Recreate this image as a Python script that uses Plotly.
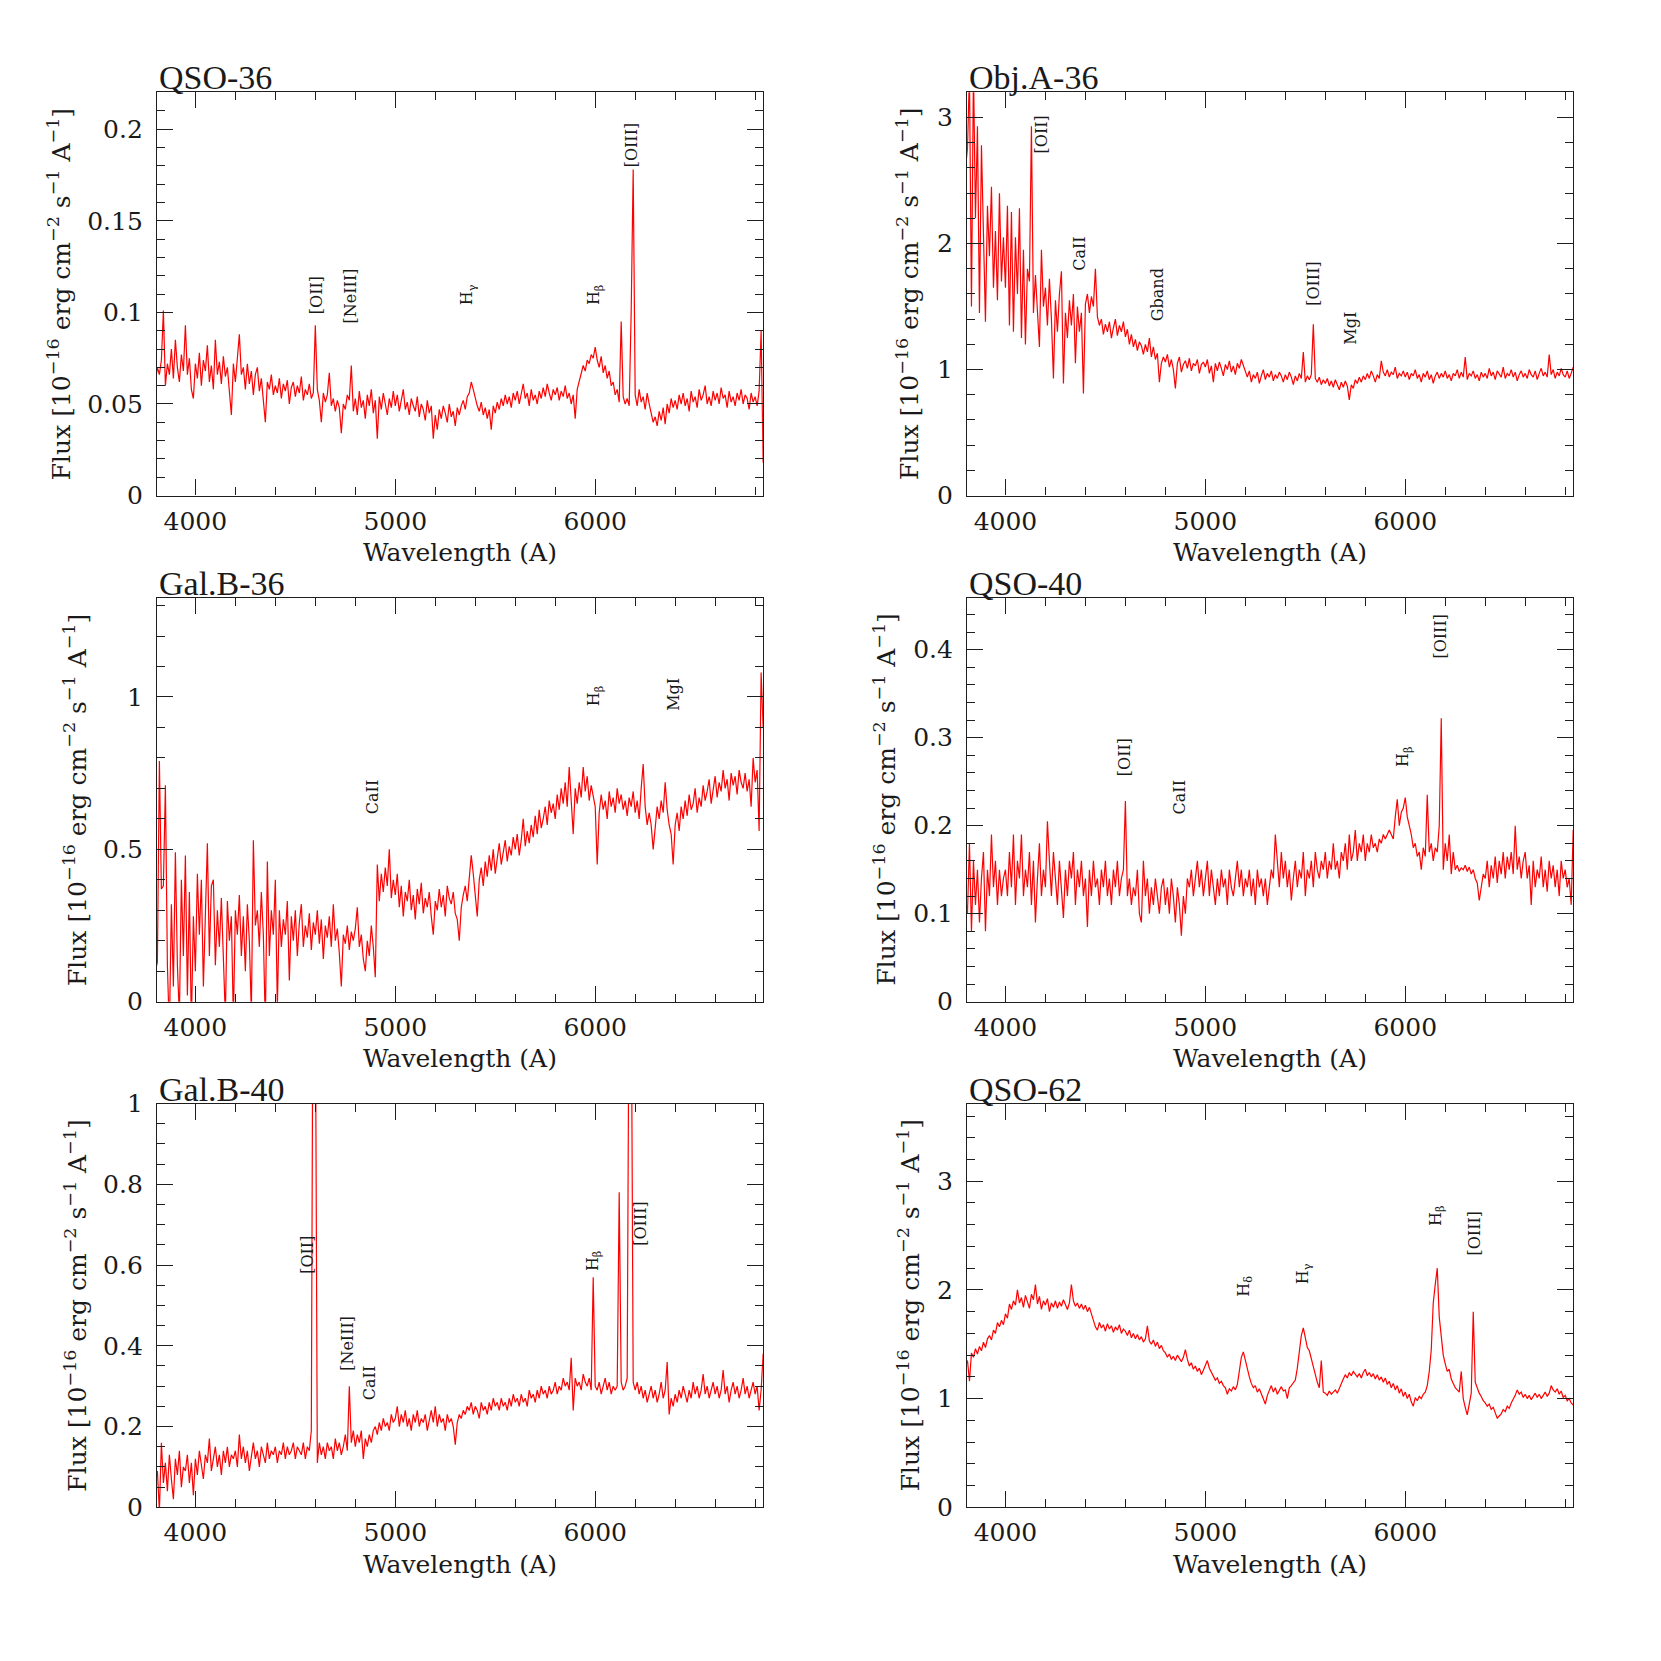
import plotly.graph_objects as go

# wavelength grid (Angstrom), 10 A sampling
WAVE = list(range(3800, 6850, 10))

qso36_flux = (
    [0.062, 0.070, 0.066, 0.074, 0.101, 0.060, 0.072, 0.066, 0.080, 0.064, 0.085, 0.070, 0.062, 0.077, 0.068, 0.093, 0.066, 0.075, 0.058, 0.053]
    + [0.072, 0.064, 0.078, 0.060, 0.074, 0.068, 0.082, 0.062, 0.071, 0.058, 0.085, 0.066, 0.073, 0.061, 0.076, 0.065, 0.070, 0.059, 0.044, 0.072]
    + [0.062, 0.075, 0.088, 0.066, 0.070, 0.058, 0.072, 0.061, 0.068, 0.055, 0.066, 0.070, 0.057, 0.064, 0.052, 0.040, 0.062, 0.058, 0.066, 0.055]
    + [0.060, 0.056, 0.064, 0.053, 0.061, 0.057, 0.063, 0.050, 0.059, 0.062, 0.054, 0.060, 0.056, 0.065, 0.052, 0.058, 0.055, 0.061, 0.053, 0.056]
    + [0.093, 0.058, 0.052, 0.040, 0.056, 0.051, 0.055, 0.067, 0.049, 0.053, 0.046, 0.052, 0.048, 0.034, 0.050, 0.047, 0.055, 0.052, 0.071, 0.046]
    + [0.053, 0.044, 0.057, 0.048, 0.052, 0.042, 0.055, 0.049, 0.058, 0.045, 0.052, 0.031, 0.054, 0.047, 0.056, 0.050, 0.044, 0.053, 0.048, 0.057]
    + [0.049, 0.055, 0.046, 0.052, 0.058, 0.047, 0.051, 0.044, 0.053, 0.049, 0.046, 0.054, 0.043, 0.050, 0.047, 0.041, 0.052, 0.045, 0.049, 0.031]
    + [0.044, 0.036, 0.047, 0.042, 0.049, 0.045, 0.040, 0.050, 0.043, 0.046, 0.038, 0.048, 0.044, 0.049, 0.052, 0.047, 0.054, 0.056, 0.062, 0.058]
    + [0.053, 0.049, 0.046, 0.051, 0.044, 0.048, 0.042, 0.047, 0.036, 0.049, 0.045, 0.051, 0.047, 0.053, 0.049, 0.055, 0.050, 0.054, 0.048, 0.056]
    + [0.052, 0.057, 0.050, 0.055, 0.061, 0.053, 0.056, 0.049, 0.058, 0.052, 0.055, 0.050, 0.057, 0.053, 0.059, 0.054, 0.061, 0.056, 0.052, 0.058]
    + [0.055, 0.059, 0.052, 0.057, 0.054, 0.060, 0.053, 0.056, 0.050, 0.055, 0.042, 0.058, 0.062, 0.067, 0.071, 0.068, 0.074, 0.072, 0.077, 0.075]
    + [0.081, 0.074, 0.070, 0.076, 0.067, 0.071, 0.064, 0.068, 0.060, 0.062, 0.055, 0.058, 0.051, 0.095, 0.054, 0.050, 0.053, 0.049, 0.100, 0.178]
    + [0.055, 0.049, 0.058, 0.051, 0.054, 0.047, 0.056, 0.050, 0.045, 0.040, 0.043, 0.038, 0.046, 0.041, 0.048, 0.039, 0.050, 0.045, 0.053, 0.048]
    + [0.052, 0.047, 0.055, 0.050, 0.056, 0.049, 0.053, 0.046, 0.057, 0.051, 0.054, 0.048, 0.058, 0.052, 0.055, 0.060, 0.050, 0.054, 0.049, 0.057]
    + [0.052, 0.056, 0.050, 0.059, 0.053, 0.055, 0.048, 0.057, 0.051, 0.054, 0.049, 0.056, 0.052, 0.058, 0.050, 0.055, 0.053, 0.047, 0.056, 0.051]
    + [0.054, 0.049, 0.057, 0.090, 0.018]
)

obja36_flux = (
    [2.60, 2.75, 3.35, 1.50, 3.40, 2.20, 2.93, 1.45, 2.78, 2.05, 1.38, 2.30, 1.90, 2.45, 1.65, 2.10, 1.55, 2.40, 1.70, 2.05]
    + [1.65, 2.30, 1.35, 2.25, 1.30, 2.05, 1.60, 2.28, 1.25, 1.95, 1.20, 1.80, 1.70, 2.93, 1.45, 1.75, 1.40, 1.18, 1.95, 1.50]
    + [1.65, 1.35, 1.72, 1.40, 0.93, 1.55, 1.30, 1.60, 1.78, 0.89, 1.45, 1.25, 1.55, 1.35, 1.60, 1.05, 1.50, 1.30, 1.45, 0.81]
    + [1.52, 1.60, 1.45, 1.58, 1.50, 1.80, 1.42, 1.35, 1.40, 1.28, 1.36, 1.30, 1.38, 1.25, 1.33, 1.40, 1.27, 1.35, 1.30, 1.38]
    + [1.26, 1.32, 1.20, 1.28, 1.18, 1.24, 1.15, 1.22, 1.19, 1.12, 1.20, 1.14, 1.25, 1.10, 1.18, 1.08, 1.13, 0.90, 1.05, 1.10]
    + [1.06, 1.12, 1.02, 1.08, 1.00, 0.85, 1.05, 1.10, 0.98, 1.04, 1.07, 1.01, 1.09, 0.99, 1.05, 1.03, 1.08, 0.97, 1.04, 1.06]
    + [1.02, 1.08, 0.97, 1.03, 0.90, 1.05, 0.99, 1.06, 1.01, 0.95, 1.04, 1.00, 1.07, 0.98, 1.03, 0.96, 1.05, 1.01, 1.08, 1.03]
    + [0.98, 0.94, 0.99, 0.90, 0.96, 0.93, 0.98, 0.89, 0.95, 1.00, 0.92, 0.97, 0.94, 0.99, 0.91, 0.96, 0.93, 0.98, 0.95, 0.90]
    + [0.96, 0.92, 0.98, 0.94, 0.88, 0.95, 0.91, 0.97, 0.93, 1.14, 0.90, 0.95, 0.92, 0.96, 1.36, 0.93, 0.90, 0.94, 0.88, 0.92]
    + [0.89, 0.93, 0.87, 0.91, 0.86, 0.92, 0.88, 0.84, 0.90, 0.86, 0.91, 0.87, 0.76, 0.88, 0.85, 0.92, 0.89, 0.94, 0.90, 0.95]
    + [0.92, 0.97, 0.93, 0.99, 0.95, 0.90, 0.96, 0.93, 1.07, 0.98, 0.95, 1.00, 0.94, 0.98, 0.96, 1.02, 0.93, 0.97, 0.95, 0.99]
    + [0.94, 0.98, 0.92, 0.97, 0.95, 1.00, 0.93, 0.96, 0.90, 0.97, 0.94, 0.99, 0.92, 0.96, 0.89, 0.95, 0.98, 0.93, 0.97, 0.94]
    + [0.99, 0.93, 0.96, 0.91, 0.97, 0.95, 1.00, 0.93, 0.98, 0.94, 1.10, 0.92, 0.97, 0.95, 0.99, 0.93, 0.96, 0.91, 0.98, 0.94]
    + [0.97, 0.93, 1.01, 0.95, 0.98, 0.92, 0.99, 0.96, 0.94, 1.02, 0.93, 0.97, 0.95, 1.00, 0.94, 0.98, 0.91, 0.96, 0.99, 0.94]
    + [0.97, 0.93, 1.00, 0.96, 0.94, 0.99, 0.92, 0.97, 1.01, 0.95, 0.98, 0.94, 1.12, 0.96, 1.00, 0.93, 0.98, 0.95, 1.01, 0.96]
    + [0.94, 0.99, 0.93, 0.97, 1.02]
)

galb36_flux = (
    [0.10, 0.13, 0.79, 0.37, 0.38, 0.71, 0.12, -0.10, 0.32, 0.05, 0.49, 0.12, -0.05, 0.40, 0.15, 0.48, 0.02, 0.36, -0.08, 0.28]
    + [0.10, 0.42, 0.22, 0.40, 0.05, 0.32, 0.52, 0.15, 0.38, 0.40, 0.12, 0.30, 0.18, 0.34, 0.08, -0.05, 0.33, 0.20, 0.28, -0.06]
    + [0.30, 0.22, 0.35, 0.15, 0.28, 0.10, 0.32, 0.20, -0.04, 0.53, 0.25, 0.30, 0.18, 0.36, 0.22, -0.08, 0.46, 0.15, 0.30, 0.22]
    + [0.40, -0.02, 0.30, 0.18, 0.27, 0.22, 0.33, 0.07, 0.28, 0.20, 0.30, 0.15, 0.26, 0.32, 0.18, 0.25, 0.21, 0.29, 0.17, 0.26]
    + [0.22, 0.30, 0.19, 0.27, 0.14, 0.25, 0.21, 0.28, 0.18, 0.32, 0.20, 0.24, 0.16, 0.05, 0.22, 0.19, 0.25, 0.17, 0.23, 0.20]
    + [0.24, 0.31, 0.18, 0.22, 0.14, 0.10, 0.20, 0.15, 0.25, 0.18, 0.08, 0.45, 0.33, 0.42, 0.36, 0.44, 0.38, 0.50, 0.34, 0.40]
    + [0.35, 0.42, 0.31, 0.38, 0.28, 0.36, 0.33, 0.40, 0.30, 0.35, 0.27, 0.37, 0.32, 0.39, 0.29, 0.34, 0.31, 0.36, 0.28, 0.22]
    + [0.33, 0.30, 0.37, 0.31, 0.35, 0.28, 0.38, 0.34, 0.32, 0.36, 0.29, 0.27, 0.20, 0.31, 0.35, 0.38, 0.33, 0.40, 0.48, 0.42]
    + [0.36, 0.28, 0.40, 0.44, 0.38, 0.46, 0.41, 0.48, 0.43, 0.50, 0.42, 0.47, 0.52, 0.45, 0.49, 0.53, 0.46, 0.51, 0.48, 0.54]
    + [0.50, 0.55, 0.48, 0.53, 0.60, 0.51, 0.56, 0.52, 0.58, 0.54, 0.61, 0.55, 0.63, 0.57, 0.60, 0.64, 0.58, 0.66, 0.62, 0.65]
    + [0.60, 0.68, 0.63, 0.70, 0.65, 0.72, 0.64, 0.77, 0.66, 0.55, 0.70, 0.65, 0.72, 0.67, 0.77, 0.69, 0.74, 0.66, 0.71, 0.68]
    + [0.64, 0.45, 0.62, 0.68, 0.63, 0.66, 0.60, 0.69, 0.64, 0.67, 0.62, 0.70, 0.65, 0.68, 0.63, 0.66, 0.61, 0.67, 0.64, 0.69]
    + [0.62, 0.66, 0.60, 0.70, 0.78, 0.64, 0.58, 0.62, 0.58, 0.50, 0.57, 0.64, 0.60, 0.66, 0.62, 0.72, 0.63, 0.58, 0.55, 0.45]
    + [0.58, 0.62, 0.56, 0.64, 0.60, 0.66, 0.61, 0.68, 0.63, 0.65, 0.70, 0.62, 0.67, 0.64, 0.71, 0.66, 0.69, 0.73, 0.65, 0.70]
    + [0.74, 0.67, 0.72, 0.69, 0.76, 0.70, 0.73, 0.66, 0.75, 0.71, 0.74, 0.68, 0.76, 0.72, 0.70, 0.75, 0.69, 0.73, 0.64, 0.80]
    + [0.72, 0.76, 0.56, 1.08, 0.90]
)

qso40_flux = (
    [0.12, 0.10, 0.18, 0.08, 0.16, 0.11, 0.15, 0.09, 0.14, 0.17, 0.08, 0.15, 0.12, 0.19, 0.13, 0.16, 0.11, 0.15, 0.12, 0.14]
    + [0.15, 0.12, 0.17, 0.13, 0.19, 0.11, 0.16, 0.14, 0.19, 0.12, 0.15, 0.13, 0.17, 0.11, 0.16, 0.09, 0.14, 0.18, 0.12, 0.15]
    + [0.13, 0.205, 0.16, 0.12, 0.17, 0.14, 0.11, 0.16, 0.13, 0.095, 0.15, 0.12, 0.16, 0.14, 0.17, 0.11, 0.15, 0.13, 0.16, 0.12]
    + [0.14, 0.085, 0.15, 0.12, 0.16, 0.13, 0.14, 0.11, 0.15, 0.13, 0.16, 0.12, 0.14, 0.11, 0.15, 0.13, 0.16, 0.12, 0.14, 0.15]
    + [0.228, 0.12, 0.14, 0.11, 0.13, 0.12, 0.15, 0.10, 0.09, 0.16, 0.12, 0.14, 0.10, 0.13, 0.11, 0.14, 0.12, 0.10, 0.13, 0.14]
    + [0.11, 0.13, 0.10, 0.14, 0.12, 0.09, 0.13, 0.11, 0.075, 0.12, 0.10, 0.14, 0.13, 0.15, 0.12, 0.14, 0.16, 0.13, 0.15, 0.12]
    + [0.14, 0.16, 0.12, 0.15, 0.13, 0.11, 0.14, 0.12, 0.15, 0.13, 0.14, 0.11, 0.15, 0.13, 0.12, 0.14, 0.16, 0.13, 0.15, 0.12]
    + [0.14, 0.13, 0.15, 0.12, 0.14, 0.11, 0.15, 0.13, 0.14, 0.12, 0.14, 0.11, 0.13, 0.15, 0.14, 0.19, 0.16, 0.13, 0.17, 0.14]
    + [0.16, 0.13, 0.15, 0.115, 0.14, 0.16, 0.13, 0.15, 0.14, 0.17, 0.12, 0.15, 0.14, 0.16, 0.13, 0.17, 0.15, 0.14, 0.16, 0.15]
    + [0.17, 0.14, 0.16, 0.15, 0.18, 0.15, 0.16, 0.14, 0.17, 0.16, 0.18, 0.15, 0.19, 0.16, 0.17, 0.195, 0.16, 0.18, 0.17, 0.19]
    + [0.16, 0.18, 0.17, 0.19, 0.175, 0.18, 0.17, 0.185, 0.18, 0.19, 0.185, 0.19, 0.195, 0.19, 0.185, 0.21, 0.23, 0.20, 0.215, 0.22]
    + [0.232, 0.21, 0.20, 0.19, 0.175, 0.18, 0.165, 0.17, 0.15, 0.175, 0.165, 0.235, 0.17, 0.18, 0.16, 0.175, 0.17, 0.20, 0.322, 0.15]
    + [0.18, 0.16, 0.19, 0.145, 0.17, 0.15, 0.155, 0.148, 0.152, 0.15, 0.155, 0.148, 0.153, 0.145, 0.15, 0.14, 0.135, 0.115, 0.13, 0.145]
    + [0.14, 0.16, 0.13, 0.155, 0.14, 0.165, 0.135, 0.16, 0.145, 0.17, 0.14, 0.165, 0.15, 0.17, 0.145, 0.20, 0.15, 0.165, 0.14, 0.16]
    + [0.17, 0.14, 0.155, 0.11, 0.16, 0.13, 0.15, 0.14, 0.165, 0.13, 0.15, 0.125, 0.16, 0.14, 0.155, 0.13, 0.15, 0.12, 0.16, 0.14]
    + [0.15, 0.13, 0.14, 0.11, 0.195]
)

galb40_flux = (
    [0.08, 0.09, -0.01, 0.16, 0.06, 0.11, 0.04, 0.13, 0.07, 0.02, 0.12, 0.08, 0.14, 0.05, 0.10, 0.09, 0.13, 0.06, 0.11, 0.03]
    + [0.12, 0.08, 0.14, 0.10, 0.07, 0.13, 0.11, 0.17, 0.09, 0.12, 0.15, 0.10, 0.13, 0.08, 0.14, 0.11, 0.15, 0.10, 0.13, 0.12]
    + [0.14, 0.10, 0.18, 0.12, 0.15, 0.11, 0.14, 0.09, 0.13, 0.16, 0.12, 0.14, 0.10, 0.15, 0.13, 0.11, 0.16, 0.12, 0.14, 0.13]
    + [0.15, 0.11, 0.14, 0.13, 0.16, 0.12, 0.15, 0.13, 0.14, 0.16, 0.12, 0.15, 0.14, 0.13, 0.16, 0.12, 0.15, 0.14, 0.19, 1.60]
    + [1.30, 0.11, 0.16, 0.13, 0.15, 0.12, 0.16, 0.14, 0.15, 0.12, 0.17, 0.14, 0.16, 0.13, 0.15, 0.18, 0.14, 0.30, 0.16, 0.19]
    + [0.15, 0.18, 0.16, 0.19, 0.12, 0.17, 0.15, 0.18, 0.16, 0.19, 0.20, 0.18, 0.21, 0.19, 0.22, 0.20, 0.21, 0.19, 0.23, 0.21]
    + [0.22, 0.25, 0.20, 0.23, 0.21, 0.24, 0.20, 0.22, 0.19, 0.23, 0.21, 0.24, 0.20, 0.22, 0.21, 0.23, 0.19, 0.22, 0.24, 0.21]
    + [0.25, 0.20, 0.23, 0.21, 0.22, 0.19, 0.23, 0.21, 0.22, 0.20, 0.155, 0.21, 0.23, 0.22, 0.24, 0.23, 0.25, 0.24, 0.26, 0.23]
    + [0.25, 0.24, 0.22, 0.26, 0.24, 0.25, 0.23, 0.26, 0.24, 0.27, 0.25, 0.26, 0.24, 0.27, 0.25, 0.26, 0.24, 0.27, 0.25, 0.28]
    + [0.26, 0.27, 0.25, 0.28, 0.26, 0.27, 0.25, 0.29, 0.27, 0.28, 0.26, 0.29, 0.27, 0.30, 0.28, 0.29, 0.27, 0.30, 0.28, 0.29]
    + [0.31, 0.28, 0.30, 0.29, 0.32, 0.30, 0.31, 0.29, 0.37, 0.24, 0.32, 0.30, 0.31, 0.29, 0.33, 0.31, 0.30, 0.32, 0.29, 0.57]
    + [0.30, 0.29, 0.31, 0.28, 0.30, 0.32, 0.29, 0.31, 0.28, 0.30, 0.29, 0.30, 0.78, 0.31, 0.29, 0.30, 0.32, 1.40, 1.35, 0.31]
    + [0.29, 0.31, 0.28, 0.30, 0.27, 0.29, 0.26, 0.28, 0.30, 0.27, 0.29, 0.26, 0.28, 0.31, 0.27, 0.29, 0.36, 0.23, 0.27, 0.25]
    + [0.28, 0.26, 0.29, 0.27, 0.30, 0.28, 0.26, 0.29, 0.27, 0.31, 0.28, 0.30, 0.27, 0.29, 0.33, 0.28, 0.30, 0.27, 0.29, 0.31]
    + [0.28, 0.30, 0.27, 0.29, 0.34, 0.28, 0.30, 0.26, 0.29, 0.31, 0.28, 0.30, 0.27, 0.29, 0.32, 0.28, 0.30, 0.27, 0.29, 0.31]
    + [0.28, 0.30, 0.24, 0.29, 0.38]
)

qso62_flux = (
    [1.30, 1.35, 1.16, 1.42, 1.38, 1.46, 1.41, 1.48, 1.44, 1.52, 1.47, 1.55, 1.58, 1.54, 1.63, 1.60, 1.70, 1.66, 1.72, 1.68]
    + [1.78, 1.74, 1.87, 1.82, 1.90, 1.86, 2.00, 1.88, 1.93, 1.84, 1.95, 1.89, 1.83, 1.96, 1.91, 2.05, 1.87, 1.94, 1.82, 1.90]
    + [1.86, 1.92, 1.80, 1.88, 1.84, 1.90, 1.83, 1.89, 1.85, 1.91, 1.86, 1.82, 1.88, 2.05, 1.90, 1.85, 1.88, 1.83, 1.87, 1.82]
    + [1.86, 1.80, 1.84, 1.78, 1.72, 1.66, 1.63, 1.70, 1.65, 1.68, 1.62, 1.69, 1.64, 1.67, 1.61, 1.66, 1.63, 1.68, 1.60, 1.64]
    + [1.62, 1.58, 1.63, 1.56, 1.60, 1.55, 1.59, 1.54, 1.57, 1.52, 1.55, 1.67, 1.53, 1.50, 1.54, 1.48, 1.52, 1.46, 1.49, 1.44]
    + [1.42, 1.38, 1.41, 1.36, 1.39, 1.35, 1.40, 1.37, 1.34, 1.38, 1.45, 1.36, 1.30, 1.33, 1.27, 1.30, 1.25, 1.28, 1.22, 1.26]
    + [1.30, 1.35, 1.28, 1.24, 1.20, 1.17, 1.19, 1.14, 1.16, 1.12, 1.10, 1.04, 1.09, 1.07, 1.11, 1.08, 1.13, 1.25, 1.38, 1.43]
    + [1.35, 1.26, 1.20, 1.14, 1.10, 1.12, 1.06, 1.09, 1.04, 1.00, 0.95, 1.03, 1.08, 1.12, 1.06, 1.10, 1.04, 1.08, 1.11, 1.07]
    + [1.08, 1.00, 1.10, 1.12, 1.15, 1.17, 1.28, 1.45, 1.58, 1.65, 1.56, 1.47, 1.44, 1.36, 1.28, 1.20, 1.15, 1.10, 1.35, 1.06]
    + [1.05, 1.03, 1.07, 1.04, 1.06, 1.08, 1.05, 1.10, 1.13, 1.18, 1.22, 1.19, 1.24, 1.21, 1.25, 1.22, 1.20, 1.23, 1.19, 1.24]
    + [1.27, 1.21, 1.24, 1.20, 1.23, 1.18, 1.22, 1.17, 1.20, 1.15, 1.19, 1.13, 1.16, 1.10, 1.14, 1.08, 1.12, 1.05, 1.09, 1.02]
    + [1.06, 1.00, 1.04, 0.97, 0.93, 1.01, 0.98, 1.02, 1.00, 1.04, 1.06, 1.12, 1.25, 1.45, 1.88, 2.05, 2.20, 1.75, 1.55, 1.40]
    + [1.32, 1.25, 1.27, 1.18, 1.14, 1.10, 1.08, 1.06, 1.25, 1.00, 0.92, 0.85, 0.95, 1.05, 1.80, 1.15, 1.10, 1.05, 1.02, 0.98]
    + [0.96, 0.93, 0.95, 0.90, 0.92, 0.87, 0.82, 0.84, 0.86, 0.90, 0.88, 0.93, 0.91, 0.96, 0.99, 1.03, 1.08, 1.04, 1.06, 1.01]
    + [1.04, 1.00, 1.03, 0.99, 1.02, 1.05, 1.01, 1.04, 1.00, 1.03, 1.06, 1.02, 1.05, 1.12, 1.08, 1.06, 1.09, 1.04, 1.07, 1.01]
    + [1.03, 0.98, 1.00, 0.96, 0.94]
)

# line identifications: (label, wavelength, flux at the foot of the label)
qso36_lines = [("[OII]", 4604, 0.098), ("[NeIII]", 4777, 0.093), ("H<sub>γ</sub>", 5363, 0.103),
               ("H<sub>β</sub>", 6000, 0.103), ("[OIII]", 6186, 0.178)]
obja36_lines = [("[OII]", 4178, 2.70), ("CaII", 4369, 1.77), ("Gband", 4762, 1.37),
                ("[OIII]", 5541, 1.49), ("MgI", 5725, 1.18)]
galb36_lines = [("CaII", 4884, 0.609), ("H<sub>β</sub>", 6000, 0.964), ("MgI", 6390, 0.947)]
qso40_lines = [("[OII]", 4596, 0.2535), ("CaII", 4871, 0.210), ("H<sub>β</sub>", 5992, 0.264),
               ("[OIII]", 6178, 0.388)]
galb40_lines = [("[OII]", 4561, 0.572), ("[NeIII]", 4764, 0.332), ("CaII", 4871, 0.259),
                ("H<sub>β</sub>", 5992, 0.579), ("[OIII]", 6229, 0.644)]
qso62_lines = [("H<sub>δ</sub>", 5195, 1.917), ("H<sub>γ</sub>", 5491, 2.034),
               ("H<sub>β</sub>", 6153, 2.569), ("[OIII]", 6344, 2.294)]

names = ["QSO-36", "Obj.A-36", "Gal.B-36", "QSO-40", "Gal.B-40", "QSO-62"]
fluxes = [qso36_flux, obja36_flux, galb36_flux, qso40_flux, galb40_flux, qso62_flux]
lines = [qso36_lines, obja36_lines, galb36_lines, qso40_lines, galb40_lines, qso62_lines]
y_ranges = [[0, 0.2201], [0, 3.2], [0, 1.325], [0, 0.4588], [0, 1.0], [0, 3.715]]
y_major = [0.05, 1, 0.5, 0.1, 0.2, 1]
y_minor = [0.01, 0.2, 0.1, 0.02, 0.05, 0.2]

for f in fluxes:
    assert len(f) == len(WAVE), len(f)

X_RANGE = [3808, 6839]
col_dom = [[0.0897, 0.4545], [0.5774, 0.9422]]
row_dom = [[0.7098, 0.9569], [0.3997, 0.6471], [0.0899, 0.3373]]

FRAME = "#1e1e1e"
SERIF = "DejaVu Serif"
Y_TITLE = "Flux [10<sup>−16</sup> erg cm<sup>−2</sup> s<sup>−1</sup> A<sup>−1</sup>]"
y_title_x = [0.0315, 0.5424, 0.0411, 0.5284, 0.0411, 0.5424]

fig = go.Figure()
annotations = []

for i in range(6):
    row, col = divmod(i, 2)
    sfx = "" if i == 0 else str(i + 1)
    fig.add_trace(go.Scatter(
        x=WAVE, y=fluxes[i], mode="lines",
        line=dict(color="#ff0000", width=1.2),
        xaxis="x" + sfx, yaxis="y" + sfx,
        hoverinfo="skip"
    ))

    common = dict(
        showline=True, linecolor=FRAME, linewidth=1.3, mirror="ticks",
        ticks="inside", ticklen=16, tickwidth=1.2, tickcolor=FRAME,
        showgrid=False, zeroline=False,
        tickfont=dict(family=SERIF, size=25, color="#1a1a1a"),
    )
    fig.update_layout({
        "xaxis" + sfx: dict(
            common, domain=col_dom[col], anchor="y" + sfx, range=X_RANGE,
            dtick=1000, tick0=0, ticklabelstandoff=3,
            minor=dict(ticks="inside", ticklen=8, tickwidth=1.2, tickcolor=FRAME, dtick=200, tick0=0),
        ),
        "yaxis" + sfx: dict(
            common, domain=row_dom[row], anchor="x" + sfx, range=y_ranges[i],
            dtick=y_major[i], tick0=0, ticklabelstandoff=8,
            minor=dict(ticks="inside", ticklen=8, tickwidth=1.2, tickcolor=FRAME, dtick=y_minor[i], tick0=0),
        ),
    })

    x0, x1 = col_dom[col]
    y0, y1 = row_dom[row]
    # panel name above the frame
    annotations.append(dict(
        text=names[i], xref="paper", yref="paper", x=x0, y=y1,
        xanchor="left", yanchor="bottom", yshift=-6, showarrow=False,
        font=dict(family="Liberation Serif", size=34, color="#1a1a1a")
    ))
    # axis titles
    annotations.append(dict(
        text="Wavelength (A)", xref="paper", yref="paper", x=(x0 + x1) / 2, y=y0,
        xanchor="center", yanchor="middle", yshift=-57, showarrow=False,
        font=dict(family=SERIF, size=25, color="#1a1a1a")
    ))
    annotations.append(dict(
        text=Y_TITLE, xref="paper", yref="paper", x=y_title_x[i], y=(y0 + y1) / 2,
        xanchor="center", yanchor="middle", textangle=-90, showarrow=False,
        font=dict(family=SERIF, size=25, color="#1a1a1a")
    ))
    # spectral line labels
    for label, wl, fl in lines[i]:
        annotations.append(dict(
            text=label, xref="x" + sfx, yref="y" + sfx, x=wl, y=fl,
            xanchor="center", yanchor="bottom", textangle=-90, showarrow=False,
            font=dict(family=SERIF, size=16, color="#1a1a1a")
        ))

fig.update_layout(
    width=1661, height=1661,
    margin=dict(l=0, r=0, t=0, b=0),
    paper_bgcolor="white", plot_bgcolor="white",
    showlegend=False,
    annotations=annotations,
)

fig.write_html("out.html")
